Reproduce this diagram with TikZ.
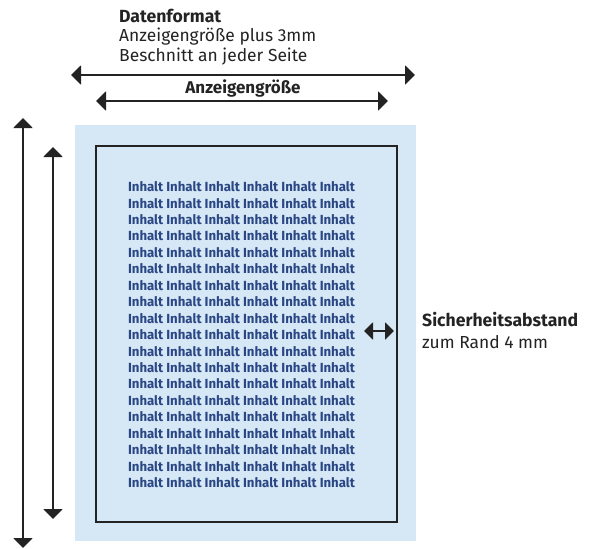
\documentclass[tikz,border=0pt]{standalone}
\usepackage{fontspec}
\setmainfont{Fira Sans}
\usetikzlibrary{arrows.meta}
\definecolor{bleed}{RGB}{214,232,246}
\definecolor{frameg}{RGB}{35,35,35}
\definecolor{inhalt}{RGB}{42,70,132}
\tikzset{
  dim/.style={line width=2pt, draw=frameg, {Triangle[length=10pt,width=19pt]}-{Triangle[length=10pt,width=19pt]}},
  smalldim/.style={line width=2pt, draw=frameg, {Triangle[length=9pt,width=17pt]}-{Triangle[length=9pt,width=17pt]}},
  lbl/.style={anchor=west, inner sep=0pt, font=\fontsize{17.4}{20}\selectfont, text=frameg},
  lblb/.style={anchor=west, inner sep=0pt, font=\fontsize{17.6}{20}\selectfont\bfseries, text=frameg},
  inh/.style={inner sep=0pt, font=\fontsize{13.2}{15}\selectfont\bfseries, text=inhalt}
}
\begin{document}
\begin{tikzpicture}[x=1pt,y=-1pt]
\useasboundingbox (0,0) rectangle (595,549);
% bleed area
\fill[bleed] (75,125) rectangle (416,541);
\node[draw=frameg, line width=2pt, minimum width=301pt, minimum height=376pt, inner sep=0pt, anchor=north west] (frame) at (95,145) {};
% content rows
\foreach \i in {0,...,18}{
  \node[inh] (row\i) at (241.5,{186.7+\i*16.44}) {Inhalt Inhalt Inhalt Inhalt Inhalt Inhalt};
}
% top labels
\node[lblb] (df) at (119,16) {Datenformat};
\node[lbl] (df2) at (119,37) {Anzeigengröße plus 3mm};
\node[lbl] (df3) at (119,57) {Beschnitt an jeder Seite};
\node[anchor=center, inner sep=0pt, font=\fontsize{17}{19}\selectfont\bfseries, text=frameg] (az) at (243,88) {Anzeigengröße};
% horizontal dimension lines
\coordinate (ho1) at (71,75); \coordinate (ho2) at (415,75);
\coordinate (hi1) at (96,101); \coordinate (hi2) at (388,101);
\draw[dim] (ho1) -- (ho2);
\draw[dim] (hi1) -- (hi2);
% vertical dimension lines
\coordinate (vo1) at (23,118); \coordinate (vo2) at (23,548);
\coordinate (vi1) at (53,147); \coordinate (vi2) at (53,519);
\draw[dim] (vo1) -- (vo2);
\draw[dim] (vi1) -- (vi2);
% safety distance
\coordinate (s1) at (364,331); \coordinate (s2) at (394,331);
\draw[smalldim] (s1) -- (s2);
\node[lblb] (sa) at (422,320) {Sicherheitsabstand};
\node[lbl] (sa2) at (422,342) {zum Rand 4 mm};
\end{tikzpicture}
\end{document}
